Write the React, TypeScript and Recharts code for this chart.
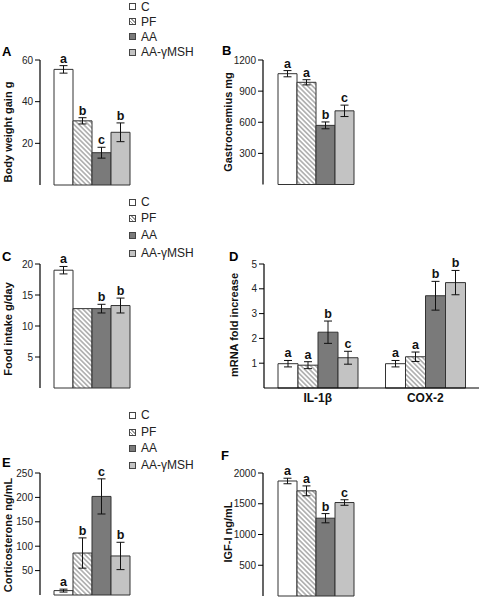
import React from "react";
import { BarChart, Bar, XAxis, YAxis, ErrorBar, LabelList } from "recharts";

const groups = ["C", "PF", "AA", "AA-γMSH"];
const seriesKeys = ["c", "pf", "aa", "aag"];
const fills = ["#ffffff", "url(#hatch)", "#7a7a7a", "#c3c3c3"];

// A - body weight gain (g)
const weightGain = [55.5, 30.8, 15.5, 25.3];
const weightGainErr = [1.8, 1.5, 2.6, 4.5];
const weightGainSig = ["a", "b", "c", "b"];

// B - gastrocnemius (mg)
const gastro = [1068, 985, 570, 710];
const gastroErr = [30, 25, 33, 55];
const gastroSig = ["a", "a", "b", "c"];

// C - food intake (g/day), PF has no error bar / letter
const foodIntake = [19, 12.8, 12.8, 13.3];
const foodIntakeErr = [0.6, null, 0.7, 1.2];
const foodIntakeSig = ["a", "", "b", "b"];

// D - mRNA fold increase
const mrnaCats = ["IL-1β", "COX-2"];
const il1b = [0.98, 0.92, 2.25, 1.22];
const il1bErr = [0.13, 0.14, 0.45, 0.26];
const il1bSig = ["a", "a", "b", "c"];
const cox2 = [0.98, 1.26, 3.72, 4.25];
const cox2Err = [0.13, 0.19, 0.58, 0.49];
const cox2Sig = ["a", "a", "b", "b"];

// E - corticosterone (ng/mL)
const cort = [9, 86, 202, 80];
const cortErr = [3, 31, 36, 28];
const cortSig = ["a", "b", "c", "b"];

// F - IGF-I (ng/mL)
const igf = [1870, 1710, 1265, 1520];
const igfErr = [45, 80, 75, 45];
const igfSig = ["a", "a", "b", "c"];

const FONT = '"Liberation Sans", Arial, Helvetica, sans-serif';

type Row = Record<string, any>;

function makeRows(cats: string[], vals: number[][], errs: (number | null)[][], sigs: string[][]): Row[] {
  return cats.map((name, ci) => {
    const row: Row = { name };
    seriesKeys.forEach((k, i) => {
      row[k] = vals[ci][i];
      row[k + "Err"] = errs[ci][i];
      row[k + "Sig"] = sigs[ci][i];
    });
    return row;
  });
}

// letter drawn just above the top of the error bar
const sigLabel = (rows: Row[], k: string) => (props: any) => {
  const vb = props.viewBox ?? props;
  const { x, y, width, height } = vb;
  const row = rows[props.index ?? 0];
  const letter = row[k + "Sig"];
  if (!letter) return null;
  const v = Number(row[k]);
  const e = Number(row[k + "Err"] ?? 0);
  const top = y - (height / v) * e;
  return (
    <text x={x + width / 2} y={top - 3} textAnchor="middle" fontSize={12.5} fontWeight="bold" fill="#111" fontFamily={FONT}>
      {letter}
    </text>
  );
};

type Panel = {
  id: string;
  box: { left: number; top: number; w: number; h: number };
  plot: { x0: number; x1: number; y0: number; y1: number };
  max: number;
  ticks: number[];
  rows: Row[];
  barSize: number;
  catLabels?: boolean;
};

const panels: Panel[] = [
  {
    id: "A", box: { left: 0, top: 0, w: 240, h: 195 }, plot: { x0: 40, x1: 143, y0: 60, y1: 185 },
    max: 60, ticks: [20, 40, 60], barSize: 19,
    rows: makeRows([""], [weightGain], [weightGainErr], [weightGainSig]),
  },
  {
    id: "B", box: { left: 200, top: 0, w: 279, h: 195 }, plot: { x0: 263, x1: 368, y0: 60, y1: 184.5 },
    max: 1200, ticks: [300, 600, 900, 1200], barSize: 19,
    rows: makeRows([""], [gastro], [gastroErr], [gastroSig]),
  },
  {
    id: "C", box: { left: 0, top: 195, w: 240, h: 210 }, plot: { x0: 40, x1: 143, y0: 264, y1: 388 },
    max: 20, ticks: [5, 10, 15, 20], barSize: 19,
    rows: makeRows([""], [foodIntake], [foodIntakeErr], [foodIntakeSig]),
  },
  {
    id: "D", box: { left: 200, top: 195, w: 279, h: 215 }, plot: { x0: 264, x1: 479, y0: 264, y1: 388 },
    max: 5, ticks: [1, 2, 3, 4, 5], barSize: 20, catLabels: true,
    rows: makeRows(mrnaCats, [il1b, cox2], [il1bErr, cox2Err], [il1bSig, cox2Sig]),
  },
  {
    id: "E", box: { left: 0, top: 400, w: 240, h: 197 }, plot: { x0: 40, x1: 143, y0: 473, y1: 595 },
    max: 250, ticks: [50, 100, 150, 200, 250], barSize: 19,
    rows: makeRows([""], [cort], [cortErr], [cortSig]),
  },
  {
    id: "F", box: { left: 200, top: 400, w: 279, h: 197 }, plot: { x0: 263, x1: 368, y0: 473, y1: 596 },
    max: 2000, ticks: [500, 1000, 1500, 2000], barSize: 19,
    rows: makeRows([""], [igf], [igfErr], [igfSig]),
  },
];

// panel letters and rotated axis titles
const panelLetters = [
  { t: "A", x: 2, y: 56 }, { t: "B", x: 222, y: 55 },
  { t: "C", x: 2, y: 261 }, { t: "D", x: 229, y: 261 },
  { t: "E", x: 2, y: 467 }, { t: "F", x: 221, y: 460 },
];
const yTitles = [
  { t: "Body weight gain g", x: 8, y: 132 },
  { t: "Gastrocnemius mg", x: 228, y: 122 },
  { t: "Food intake g/day", x: 8, y: 329 },
  { t: "mRNA fold increase", x: 234, y: 325 },
  { t: "Corticosterone ng/mL", x: 8, y: 535 },
  { t: "IGF-I ng/mL", x: 228, y: 532 },
];

const legendRows = [
  [6.5, 21.5, 36.5, 52],
  [202, 218, 235, 253],
  [415, 432, 448, 465],
];
const swatch = [
  "#ffffff",
  "repeating-linear-gradient(45deg, #fff 0 1.5px, #9a9a9a 1.5px 2.6px)",
  "#7a7a7a",
  "#c3c3c3",
];

const ChartPanel = ({ p }: { p: Panel }) => {
  const xh = p.catLabels ? 20 : 0;
  const margin = {
    top: p.plot.y0 - p.box.top,
    right: p.box.left + p.box.w - p.plot.x1,
    bottom: p.box.top + p.box.h - p.plot.y1 - xh,
    left: 0,
  };
  return (
    <div style={{ position: "absolute", left: p.box.left, top: p.box.top }}>
      <BarChart width={p.box.w} height={p.box.h} data={p.rows} margin={margin} barGap={0} barSize={p.barSize}>
        <XAxis
          dataKey="name"
          height={xh}
          axisLine={{ stroke: "#000", strokeWidth: 1.2 }}
          tickLine={false}
          tickSize={0}
          tickMargin={5}
          tick={p.catLabels ? { fontSize: 12, fontWeight: "bold", fill: "#111" } : false}
        />
        <YAxis
          type="number"
          domain={[0, p.max]}
          ticks={p.ticks}
          interval={0}
          width={p.plot.x0 - p.box.left}
          tickSize={5}
          tickMargin={2}
          axisLine={{ stroke: "#000", strokeWidth: 1.2 }}
          tickLine={{ stroke: "#000" }}
          tick={{ fontSize: 10, fill: "#222" }}
        />
        {seriesKeys.map((k, i) => (
          <Bar key={k} dataKey={k} name={groups[i]} fill={fills[i]} stroke="#333" strokeWidth={1} isAnimationActive={false}>
            <ErrorBar dataKey={k + "Err"} width={4} stroke="#111" strokeWidth={1} isAnimationActive={false} />
            <LabelList dataKey={k + "Sig"} content={sigLabel(p.rows, k)} />
          </Bar>
        ))}
      </BarChart>
    </div>
  );
};

export default function App() {
  return (
    <div
      style={{
        position: "absolute", left: 0, top: 0, width: 479, height: 597, overflow: "hidden",
        background: "#fff", fontFamily: FONT, color: "#222",
      }}
    >
      <svg width={0} height={0} style={{ position: "absolute" }}>
        <defs>
          <pattern id="hatch" patternUnits="userSpaceOnUse" width={3.4} height={3.4} patternTransform="rotate(-45)">
            <rect width={3.4} height={3.4} fill="#fff" />
            <line x1={1.7} y1={0} x2={1.7} y2={3.4} stroke="#9a9a9a" strokeWidth={1.3} />
          </pattern>
        </defs>
      </svg>
      {panels.map((p) => (
        <ChartPanel key={p.id} p={p} />
      ))}
      {legendRows.map((tops, li) =>
        groups.map((g, i) => (
          <div
            key={`${li}-${g}`}
            style={{ position: "absolute", left: 129, top: tops[i] - 8, height: 16, display: "flex", alignItems: "center", fontSize: 12, whiteSpace: "nowrap" }}
          >
            <span style={{ display: "inline-block", width: 5, height: 5, border: "1px solid #444", background: swatch[i] }} />
            <span style={{ marginLeft: 5 }}>{g}</span>
          </div>
        ))
      )}
      <svg width={479} height={597} style={{ position: "absolute", left: 0, top: 0, pointerEvents: "none" }}>
        {panelLetters.map((l) => (
          <text key={l.t} x={l.x} y={l.y} fontSize={13} fontWeight="bold" fill="#000" fontFamily={FONT}>
            {l.t}
          </text>
        ))}
        {yTitles.map((t) => (
          <text
            key={t.t}
            x={t.x}
            y={t.y}
            transform={`rotate(-90 ${t.x} ${t.y})`}
            textAnchor="middle"
            dominantBaseline="central"
            fontSize={11}
            fontWeight="bold"
            fill="#111"
            fontFamily={FONT}
          >
            {t.t}
          </text>
        ))}
      </svg>
    </div>
  );
}
